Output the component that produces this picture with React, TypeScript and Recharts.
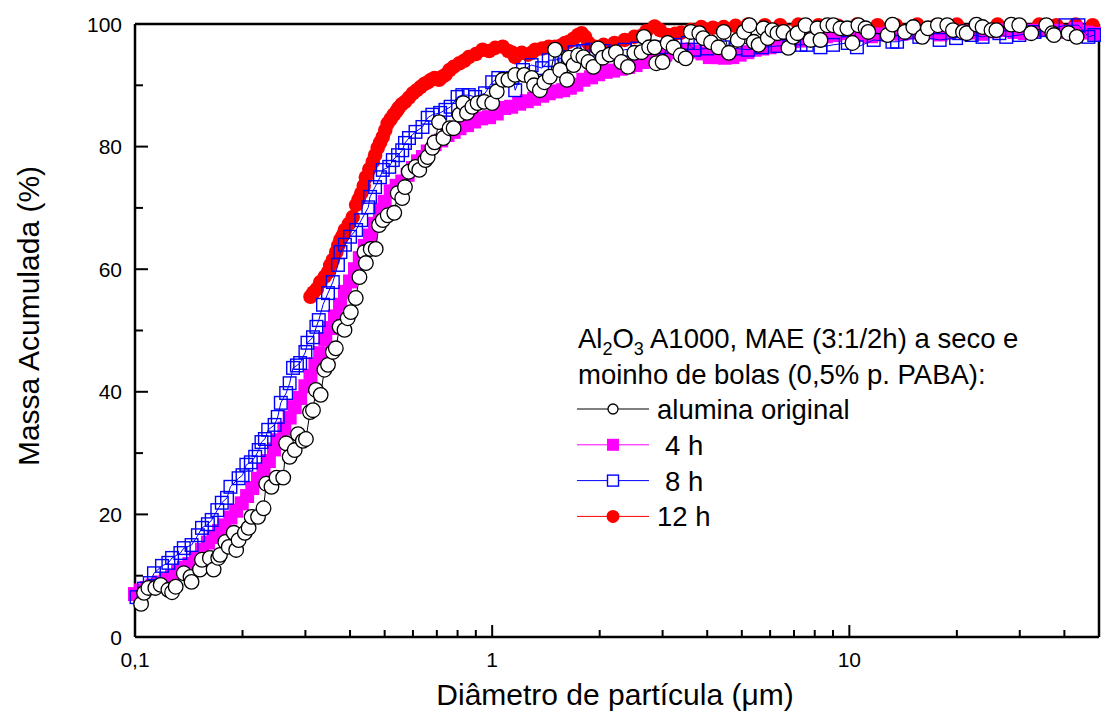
import React from "react";
import { ScatterChart, Scatter, XAxis, YAxis } from "recharts";

// diâmetro (µm), massa acumulada (%)
const alumina: [number, number][] = [
  [0.104, 5.4], [0.106, 7.2], [0.109, 8.0], [0.114, 8.0], [0.118, 8.5], [0.124, 7.7], [0.127, 7.3],
  [0.13, 8.2], [0.137, 10.4], [0.143, 9.8], [0.144, 9.0], [0.152, 11.0], [0.154, 12.6], [0.162, 12.9],
  [0.166, 11.0], [0.171, 12.9], [0.173, 13.4], [0.179, 15.5], [0.183, 14.7], [0.189, 17.0], [0.192, 14.2],
  [0.195, 15.8], [0.203, 17.0], [0.208, 17.8], [0.212, 19.6], [0.221, 19.6], [0.229, 21.0], [0.233, 25.0],
  [0.241, 24.5], [0.249, 26.0], [0.26, 26.0], [0.265, 31.6], [0.271, 29.4], [0.28, 30.5], [0.286, 33.1],
  [0.295, 32.0], [0.301, 32.3], [0.309, 36.7], [0.315, 37.0], [0.321, 40.3], [0.331, 39.5], [0.339, 43.6],
  [0.347, 44.4], [0.358, 46.5], [0.365, 47.1], [0.374, 50.6], [0.386, 50.1], [0.394, 52.0], [0.402, 53.0],
  [0.415, 55.3], [0.425, 58.7], [0.439, 62.8], [0.443, 61.0], [0.457, 63.3], [0.472, 63.3], [0.482, 67.2],
  [0.494, 68.0], [0.51, 68.8], [0.532, 69.2], [0.544, 72.4], [0.56, 71.6], [0.57, 73.4], [0.584, 75.9],
  [0.61, 76.7], [0.625, 76.2], [0.65, 77.8], [0.66, 78.3], [0.68, 79.8], [0.69, 80.7], [0.71, 84.0],
  [0.73, 81.4], [0.76, 83.0], [0.78, 83.0], [0.81, 85.2], [0.83, 87.1], [0.85, 85.5], [0.88, 86.5],
  [0.91, 87.1], [0.95, 87.3], [1.0, 87.1], [1.03, 89.0], [1.07, 90.9], [1.11, 90.9], [1.16, 91.7],
  [1.23, 91.7], [1.29, 91.2], [1.31, 90.0], [1.36, 89.2], [1.4, 90.5], [1.45, 91.4], [1.5, 95.8],
  [1.55, 92.5], [1.62, 90.9], [1.64, 94.5], [1.69, 93.3], [1.74, 94.9], [1.8, 94.6], [1.86, 93.8],
  [1.92, 93.0], [1.98, 96.0], [2.04, 94.5], [2.13, 95.0], [2.22, 95.4], [2.3, 93.8], [2.4, 93.0],
  [2.5, 95.3], [2.62, 95.4], [2.66, 97.9], [2.75, 96.2], [2.85, 96.2], [2.88, 93.6], [3.0, 93.8],
  [3.1, 96.9], [3.22, 96.2], [3.37, 94.9], [3.48, 94.4], [3.6, 98.7], [3.8, 98.5], [3.9, 97.7],
  [4.1, 97.0], [4.3, 96.2], [4.45, 98.7], [4.6, 95.3], [4.87, 97.4], [5.07, 98.7], [5.25, 99.8],
  [5.4, 97.1], [5.57, 96.6], [5.75, 99.3], [5.91, 97.7], [6.09, 99.0], [6.29, 98.5], [6.54, 98.7],
  [6.75, 96.1], [6.97, 97.9], [7.16, 98.5], [7.54, 99.8], [7.79, 97.4], [8.14, 99.3], [8.3, 97.4],
  [8.68, 99.8], [9.02, 99.8], [9.44, 99.3], [9.87, 99.3], [10.2, 96.9], [10.6, 99.8], [11.1, 99.3],
  [11.3, 98.7], [12.8, 98.2], [13.2, 99.9], [14.3, 98.7], [15.1, 99.5], [16.0, 97.9], [16.6, 99.3],
  [17.7, 99.8], [18.8, 99.8], [19.5, 99.0], [20.8, 98.7], [21.3, 98.5], [22.7, 99.9], [23.6, 99.5],
  [25.0, 99.0], [25.8, 99.0], [28.4, 99.9], [29.9, 99.8], [32.3, 98.5], [35.6, 99.8], [37.0, 98.5],
  [37.4, 98.2], [41.1, 98.5], [43.3, 97.9],
];

const moagem4h: [number, number][] = [
  [0.1, 7.0], [0.104, 7.6], [0.108, 8.0], [0.112, 8.4], [0.117, 8.9], [0.122, 9.3], [0.127, 9.9],
  [0.132, 10.6], [0.137, 11.3], [0.142, 11.9], [0.148, 12.8], [0.154, 14.2], [0.16, 15.4], [0.166, 16.3],
  [0.172, 17.3], [0.178, 18.2], [0.185, 19.5], [0.192, 20.6], [0.199, 21.8], [0.206, 23.0], [0.213, 24.3],
  [0.221, 25.8], [0.229, 27.2], [0.237, 28.7], [0.245, 30.6], [0.253, 32.1], [0.262, 34.0], [0.271, 35.8],
  [0.28, 37.5], [0.29, 39.0], [0.3, 40.9], [0.31, 42.6], [0.32, 44.5], [0.33, 46.3], [0.341, 48.6],
  [0.352, 50.4], [0.363, 52.3], [0.375, 54.2], [0.387, 56.3], [0.4, 58.0], [0.413, 60.0], [0.426, 61.8],
  [0.44, 63.8], [0.455, 65.5], [0.47, 67.4], [0.485, 69.6], [0.5, 71.0], [0.52, 72.7], [0.54, 73.6],
  [0.56, 74.3], [0.58, 75.4], [0.6, 76.5], [0.62, 77.6], [0.64, 78.3], [0.66, 79.2], [0.69, 80.4],
  [0.72, 81.0], [0.75, 81.9], [0.78, 82.4], [0.81, 83.0], [0.85, 83.5], [0.89, 84.1], [0.93, 84.6],
  [0.98, 84.8], [1.03, 85.4], [1.08, 86.3], [1.13, 86.5], [1.19, 87.0], [1.25, 87.4], [1.31, 87.8],
  [1.38, 88.3], [1.44, 88.7], [1.51, 89.0], [1.58, 89.2], [1.65, 89.6], [1.72, 90.1], [1.8, 90.9],
  [1.89, 91.3], [1.98, 91.8], [2.08, 92.2], [2.18, 92.4], [2.29, 92.7], [2.4, 93.0], [2.52, 93.3],
  [2.64, 93.8], [2.77, 94.3], [2.9, 94.6], [3.05, 95.0], [3.2, 95.4], [3.36, 95.8], [3.53, 95.8],
  [3.7, 95.5], [3.88, 95.2], [4.07, 94.6], [4.27, 94.6], [4.48, 94.5], [4.7, 94.6], [4.93, 95.0],
  [5.18, 95.4], [5.43, 95.8], [5.7, 96.0], [5.98, 96.2], [6.28, 96.4], [6.59, 96.8], [6.92, 97.2],
  [7.3, 97.3], [7.7, 97.6], [8.1, 97.9], [8.6, 98.0], [9.1, 98.2], [9.6, 98.5], [10.2, 98.4],
  [10.8, 98.3], [11.5, 98.0], [12.2, 98.3], [13.0, 98.5], [14.0, 98.4], [15.0, 98.6], [16.0, 98.7],
  [17.0, 98.6], [18.0, 98.3], [19.0, 98.6], [20.5, 98.8], [22.0, 98.6], [23.5, 98.4], [25.0, 98.8],
  [27.0, 99.0], [29.0, 98.7], [31.0, 98.5], [33.0, 98.9], [35.5, 99.1], [38.0, 98.9], [40.5, 98.7],
  [43.0, 99.2], [46.0, 98.6], [49.0, 98.4],
];

const moagem8h: [number, number][] = [
  [0.101, 6.5], [0.106, 7.9], [0.11, 8.8], [0.113, 10.4], [0.119, 11.6], [0.124, 12.1], [0.127, 12.9],
  [0.134, 13.7], [0.137, 14.5], [0.144, 15.0], [0.15, 16.6], [0.154, 17.8], [0.16, 18.4], [0.164, 19.1],
  [0.17, 20.7], [0.175, 21.9], [0.181, 22.7], [0.185, 24.5], [0.195, 25.9], [0.2, 26.4], [0.205, 28.1],
  [0.211, 28.5], [0.217, 29.4], [0.222, 30.5], [0.226, 31.8], [0.231, 32.3], [0.236, 33.8], [0.246, 34.6],
  [0.251, 35.9], [0.256, 38.2], [0.265, 39.8], [0.271, 41.4], [0.277, 43.9], [0.284, 44.3], [0.29, 44.7],
  [0.3, 46.5], [0.304, 48.0], [0.315, 48.9], [0.322, 50.6], [0.327, 51.7], [0.336, 54.2], [0.347, 56.1],
  [0.358, 57.9], [0.37, 60.7], [0.376, 62.8], [0.387, 64.0], [0.4, 65.3], [0.416, 66.4], [0.43, 68.0],
  [0.45, 70.1], [0.455, 71.8], [0.47, 73.4], [0.485, 75.0], [0.494, 76.2], [0.515, 76.7], [0.527, 77.8],
  [0.545, 78.6], [0.56, 79.4], [0.57, 80.6], [0.585, 81.4], [0.61, 82.4], [0.638, 83.2], [0.66, 84.7],
  [0.68, 85.2], [0.715, 85.5], [0.74, 86.0], [0.765, 86.5], [0.8, 88.1], [0.825, 88.4], [0.86, 88.4],
  [0.896, 88.1], [0.955, 88.7], [1.0, 90.5], [1.04, 91.2], [1.09, 91.0], [1.14, 91.2], [1.16, 89.2],
  [1.22, 92.5], [1.29, 93.3], [1.38, 92.8], [1.44, 94.1], [1.5, 94.1], [1.6, 94.6], [1.7, 95.4],
  [1.8, 95.6], [1.9, 95.8], [2.05, 95.6], [2.2, 95.3], [2.35, 95.8], [2.55, 96.0], [2.74, 96.2],
  [2.97, 96.2], [3.25, 96.6], [3.53, 96.9], [3.68, 95.8], [4.0, 96.0], [4.45, 96.2], [4.8, 96.0],
  [5.2, 95.8], [5.7, 96.2], [6.3, 96.4], [6.8, 96.6], [7.3, 96.6], [7.6, 96.6], [8.3, 96.2],
  [9.0, 96.6], [9.9, 96.9], [10.5, 96.2], [11.7, 97.4], [13.2, 97.1], [13.6, 97.1], [15.7, 97.9],
  [17.9, 97.4], [19.9, 97.7], [20.3, 98.5], [22.0, 98.2], [23.6, 97.9], [26.3, 98.5], [27.5, 97.9],
  [29.9, 98.2], [33.0, 98.7], [35.6, 99.0], [40.3, 99.8], [43.8, 99.8], [46.7, 97.9], [48.5, 98.2],
];

const moagem12h: [number, number][] = [
  [0.31, 55.5], [0.316, 56.2], [0.323, 56.8], [0.33, 57.9], [0.34, 58.8], [0.347, 59.5], [0.352, 60.6],
  [0.358, 61.5], [0.366, 62.8], [0.371, 63.9], [0.376, 64.8], [0.382, 65.5], [0.387, 66.4], [0.397, 67.4],
  [0.407, 68.5], [0.416, 70.5], [0.423, 71.4], [0.43, 72.4], [0.437, 73.6], [0.443, 75.0], [0.453, 76.3],
  [0.463, 77.5], [0.47, 78.6], [0.478, 79.8], [0.486, 80.7], [0.494, 81.6], [0.502, 82.7], [0.51, 83.8],
  [0.52, 84.5], [0.53, 85.2], [0.54, 85.8], [0.547, 86.3], [0.558, 86.9], [0.57, 87.3], [0.585, 88.0],
  [0.6, 88.7], [0.615, 89.2], [0.63, 89.7], [0.645, 90.2], [0.66, 90.5], [0.675, 90.9], [0.69, 91.2],
  [0.71, 90.9], [0.725, 91.4], [0.74, 91.7], [0.76, 92.5], [0.78, 93.0], [0.81, 93.6], [0.835, 94.0],
  [0.86, 94.6], [0.9, 95.1], [0.94, 95.8], [0.98, 95.6], [1.02, 96.1], [1.07, 96.3], [1.11, 95.6],
  [1.14, 95.3], [1.16, 94.6], [1.21, 95.3], [1.26, 95.0], [1.29, 95.3], [1.32, 95.8], [1.38, 96.0],
  [1.44, 96.3], [1.5, 96.3], [1.56, 96.5], [1.6, 96.9], [1.64, 97.1], [1.69, 97.6], [1.74, 98.2],
  [1.78, 98.5], [1.82, 97.9], [1.86, 96.9], [1.94, 96.3], [2.05, 96.6], [2.2, 96.9], [2.35, 97.4],
  [2.5, 97.9], [2.6, 98.0], [2.7, 98.8], [2.85, 99.6], [2.95, 99.0], [3.1, 98.2], [3.25, 98.4],
  [3.38, 98.6], [3.6, 99.0], [3.85, 99.5], [4.15, 99.4], [4.45, 99.5], [4.8, 99.7], [5.2, 99.9],
  [5.8, 99.8], [6.4, 99.8], [7.2, 99.9], [8.2, 99.8], [9.3, 99.7], [10.5, 99.9], [12.0, 99.8],
  [13.5, 99.8], [15.5, 99.9], [17.5, 99.8], [20.0, 99.9], [23.0, 99.7], [26.0, 99.9], [30.0, 99.8],
  [34.0, 99.9], [38.0, 99.8], [43.0, 99.9], [48.0, 99.8],
];

const xTicks = [0.1, 0.2, 0.3, 0.4, 0.5, 0.6, 0.7, 0.8, 0.9, 1, 2, 3, 4, 5, 6, 7, 8, 9, 10, 20, 30, 40];
const xLabels: Record<string, string> = { "0.1": "0,1", "1": "1", "10": "10" };
const yTicks = [0, 10, 20, 30, 40, 50, 60, 70, 80, 90, 100];

const FONT = "'Liberation Sans', Arial, Helvetica, sans-serif";
const W = 1101;
const H = 716;

const pts = (arr: [number, number][]) => arr.map(([x, y]) => ({ x, y }));

const BottomTick = (p: any) => {
  const v = p.payload.value;
  const lab = xLabels[String(v)];
  return (
    <g>
      <line x1={p.x} x2={p.x} y1={p.y} y2={p.y - (lab ? 12 : 7)} stroke="#000" strokeWidth={2} />
      {lab && (
        <text x={p.x} y={p.y + 30} textAnchor="middle" fontSize={21} fontFamily={FONT} fill="#000">
          {lab}
        </text>
      )}
    </g>
  );
};

const TopTick = (p: any) => {
  const major = !!xLabels[String(p.payload.value)];
  return <line x1={p.x} x2={p.x} y1={p.y} y2={p.y + (major ? 12 : 7)} stroke="#000" strokeWidth={2} />;
};

const LeftTick = (p: any) => {
  const v = p.payload.value;
  const major = v % 20 === 0;
  return (
    <g>
      <line x1={p.x} x2={p.x + (major ? 13 : 8)} y1={p.y} y2={p.y} stroke="#000" strokeWidth={2} />
      {major && (
        <text x={p.x - 13} y={p.y + 7.5} textAnchor="end" fontSize={21} fontFamily={FONT} fill="#000">
          {v}
        </text>
      )}
    </g>
  );
};

const RightTick = (p: any) => {
  const major = p.payload.value % 20 === 0;
  return <line x1={p.x} x2={p.x - (major ? 13 : 8)} y1={p.y} y2={p.y} stroke="#000" strokeWidth={2} />;
};

const OpenCircle = (p: any) => <circle cx={p.cx} cy={p.cy} r={7.3} fill="#fff" stroke="#000" strokeWidth={1.3} />;
const MagentaSquare = (p: any) => <rect x={p.cx - 7} y={p.cy - 7} width={14} height={14} fill="#ff00ff" />;
const BlueSquare = (p: any) => (
  <rect x={p.cx - 6.3} y={p.cy - 6.3} width={12.6} height={12.6} fill="none" stroke="#0000ff" strokeWidth={1.4} />
);
const RedCircle = (p: any) => <circle cx={p.cx} cy={p.cy} r={7.3} fill="#ff0000" />;

const axisStyle = { stroke: "#000", strokeWidth: 2.5 };

export default function App() {
  const legendRows = [
    { label: "alumina original", color: "#000", tx: 657, kind: "oc" },
    { label: "4 h", color: "#ff00ff", tx: 665, kind: "ms" },
    { label: "8 h", color: "#0000ff", tx: 665, kind: "bs" },
    { label: "12 h", color: "#ff0000", tx: 657, kind: "rc" },
  ];
  return (
    <div style={{ position: "relative", width: W, height: H, background: "#fff" }}>
      <style>{`body{margin:0;}`}</style>
      <ScatterChart width={W} height={H} margin={{ top: 4, right: 0, bottom: 0, left: 0 }}>
        <XAxis
          xAxisId="b"
          dataKey="x"
          type="number"
          scale="log"
          domain={[0.1, 50]}
          ticks={xTicks}
          interval={0}
          tickSize={0}
          tickMargin={0}
          tickLine={false}
          axisLine={axisStyle}
          tick={BottomTick}
          height={79}
        />
        <XAxis
          xAxisId="t"
          orientation="top"
          dataKey="x"
          type="number"
          scale="log"
          domain={[0.1, 50]}
          ticks={xTicks}
          interval={0}
          tickSize={0}
          tickMargin={0}
          tickLine={false}
          axisLine={axisStyle}
          tick={TopTick}
          height={20}
        />
        <YAxis
          yAxisId="l"
          dataKey="y"
          type="number"
          domain={[0, 100]}
          ticks={yTicks}
          interval={0}
          tickSize={0}
          tickMargin={0}
          tickLine={false}
          axisLine={axisStyle}
          tick={LeftTick}
          width={135}
        />
        <YAxis
          yAxisId="r"
          orientation="right"
          dataKey="y"
          type="number"
          domain={[0, 100]}
          ticks={yTicks}
          interval={0}
          tickSize={0}
          tickMargin={0}
          tickLine={false}
          axisLine={axisStyle}
          tick={RightTick}
          width={2}
        />
        <Scatter
          xAxisId="b"
          yAxisId="l"
          data={pts(moagem12h)}
          line={{ stroke: "#ff0000", strokeWidth: 1 }}
          shape={RedCircle}
          isAnimationActive={false}
        />
        <Scatter
          xAxisId="b"
          yAxisId="l"
          data={pts(moagem4h)}
          line={{ stroke: "#ff00ff", strokeWidth: 1 }}
          shape={MagentaSquare}
          isAnimationActive={false}
        />
        <Scatter
          xAxisId="b"
          yAxisId="l"
          data={pts(moagem8h)}
          line={{ stroke: "#0000ff", strokeWidth: 1 }}
          shape={BlueSquare}
          isAnimationActive={false}
        />
        <Scatter
          xAxisId="b"
          yAxisId="l"
          data={pts(alumina)}
          line={{ stroke: "#000", strokeWidth: 1 }}
          shape={OpenCircle}
          isAnimationActive={false}
        />
      </ScatterChart>
      <svg
        width={W}
        height={H}
        style={{ position: "absolute", left: 0, top: 0, pointerEvents: "none" }}
        fontFamily={FONT}
      >
        <text
          x={28}
          y={316}
          fontSize={30}
          textAnchor="middle"
          dominantBaseline="central"
          transform="rotate(-90, 28, 316)"
        >
          Massa Acumulada (%)
        </text>
        <text x={615} y={705} fontSize={30} textAnchor="middle">
          Diâmetro de partícula (μm)
        </text>
        <text x={578} y={348} fontSize={27.5}>
          Al
          <tspan fontSize={18} dy={7}>2</tspan>
          <tspan dy={-7}>O</tspan>
          <tspan fontSize={18} dy={7}>3</tspan>
          <tspan dy={-7}> A1000, MAE (3:1/2h) a seco e</tspan>
        </text>
        <text x={578} y={384} fontSize={27.5}>
          moinho de bolas (0,5% p. PABA):
        </text>
        {legendRows.map((r, i) => {
          const cy = 409 + i * 35.8;
          return (
            <g key={r.label}>
              <line x1={577} x2={649} y1={cy} y2={cy} stroke={r.color} strokeWidth={1} />
              {r.kind === "oc" && <circle cx={613} cy={cy} r={5} fill="#fff" stroke="#000" strokeWidth={1.3} />}
              {r.kind === "ms" && <rect x={607} y={cy - 6} width={12} height={12} fill="#ff00ff" />}
              {r.kind === "bs" && (
                <rect x={607.5} y={cy - 5.5} width={11} height={11} fill="#fff" stroke="#0000ff" strokeWidth={1.4} />
              )}
              {r.kind === "rc" && <circle cx={613} cy={cy} r={6.5} fill="#ff0000" />}
              <text x={r.tx} y={cy + 10} fontSize={27.5}>
                {r.label}
              </text>
            </g>
          );
        })}
      </svg>
    </div>
  );
}
